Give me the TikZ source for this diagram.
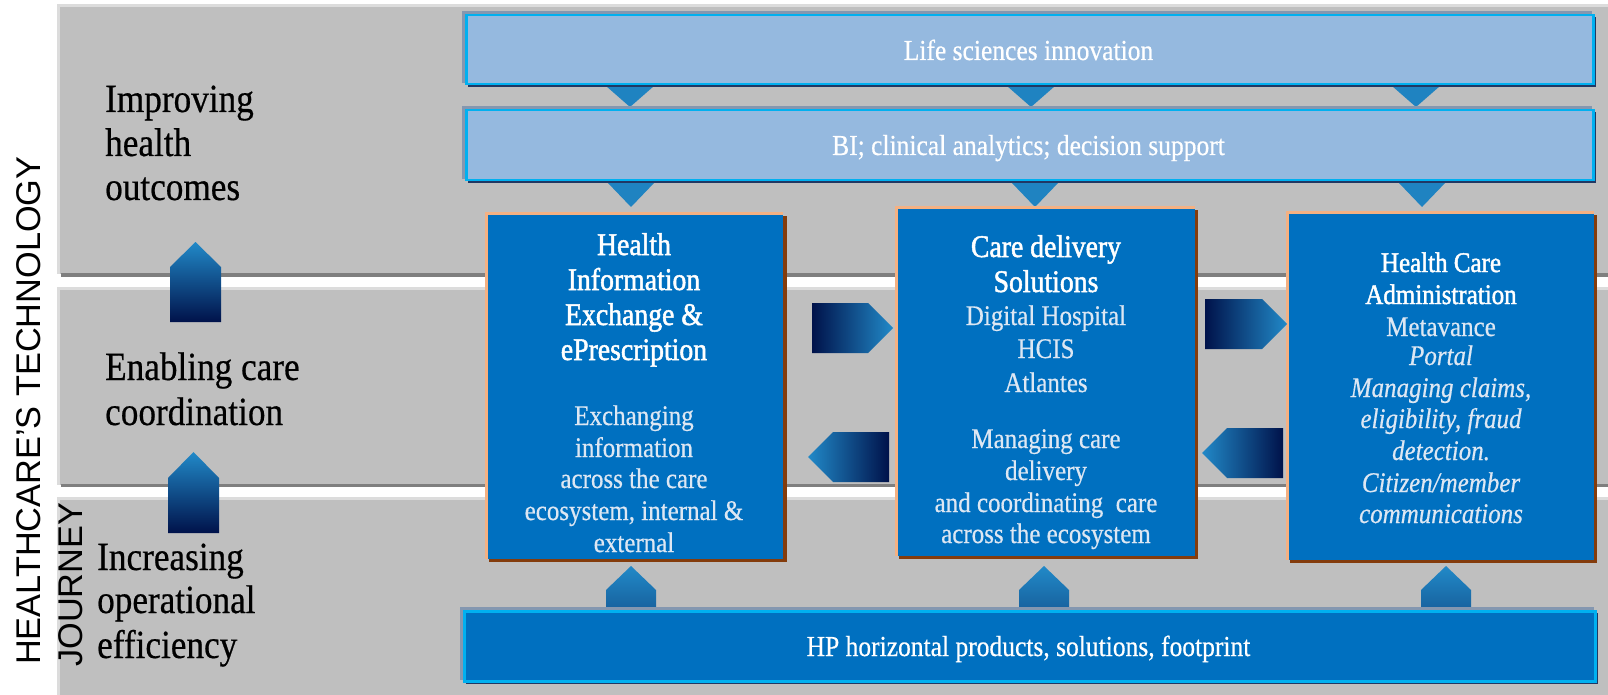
\documentclass[tikz,border=0pt]{standalone}
\usepackage{fontspec}
\setmainfont{Liberation Serif}[FakeStretch=0.88, FakeBold=0.5]
\newfontfamily\ttlf{Liberation Serif}[FakeStretch=0.88, FakeBold=1.6]
\newfontfamily\sansf{Liberation Sans}
\definecolor{band}{HTML}{BFBFBF}
\definecolor{bandrim}{HTML}{DCDCDC}
\definecolor{bandshadow}{HTML}{7F7F7F}
\definecolor{boxblue}{HTML}{0070C0}
\definecolor{boxrim}{HTML}{F4B183}
\definecolor{boxshadow}{HTML}{843C0C}
\definecolor{barfill}{HTML}{95B9DF}
\definecolor{barcyan}{HTML}{00B0F0}
\definecolor{barrim}{HTML}{8497B0}
\definecolor{barshadow}{HTML}{203864}
\definecolor{tri}{HTML}{1F83C1}
\definecolor{arlight}{HTML}{2189C8}
\definecolor{ardark}{HTML}{00124A}
\definecolor{armid}{HTML}{17609C}
\definecolor{bodytext}{HTML}{DDE7F3}
\tikzset{
  lefttxt/.style={anchor=base west, inner sep=0, font=\fontsize{40}{48}\selectfont},
  vtxt/.style={rotate=90, anchor=base west, inner sep=0, font=\sansf\fontsize{34.3}{40}\selectfont},
  ttlA/.style={anchor=base, inner sep=0, text=white, font=\ttlf\fontsize{31.5}{36}\selectfont},
  ttlB/.style={anchor=base, inner sep=0, text=white, font=\ttlf\fontsize{28.4}{32}\selectfont},
  bodyt/.style={anchor=base, inner sep=0, text=bodytext, font=\fontsize{28.4}{32}\selectfont},
  bodyi/.style={anchor=base, inner sep=0, text=bodytext, font=\fontsize{28.4}{32}\selectfont\itshape},
  bartxt/.style={anchor=base, inner sep=0, text=white, font=\fontsize{29}{34}\selectfont},
  boxst/.style={anchor=north west, inner sep=0, fill=boxblue, draw=none},
  barst/.style={anchor=north west, inner sep=0, fill=barfill, draw=barcyan, line width=2.5pt},
  hpbarst/.style={anchor=north west, inner sep=0, fill=boxblue, draw=barcyan, line width=2.5pt},
  tristyle/.style={fill=tri},
}
\begin{document}
\begin{tikzpicture}[x=1pt,y=-1pt]
\useasboundingbox (0,0) rectangle (1608,695);
% bands
\fill[bandrim] (57,4) rectangle (1608,274);
\fill[band] (60,7) rectangle (1608,274);
\fill[bandshadow] (61,273) rectangle (1608,277);
\fill[bandrim] (57,287) rectangle (1608,485);
\fill[band] (60,290) rectangle (1608,485);
\fill[bandshadow] (61,484) rectangle (1608,487);
\fill[bandrim] (57,497) rectangle (1608,695);
\fill[band] (60,500) rectangle (1608,695);
% left up arrows
\shade[top color=arlight, bottom color=ardark] (170,322) -- (170,267) -- (195.5,242) -- (221,267) -- (221,322) -- cycle;
\shade[top color=arlight, bottom color=ardark] (168,533) -- (168,478) -- (193.5,452) -- (219,478) -- (219,533) -- cycle;
% left texts
\node[lefttxt] (l1) at (105,112) {Improving};
\node[lefttxt] (l2) at (105,156) {health};
\node[lefttxt] (l3) at (105,200) {outcomes};
\node[lefttxt] (l4) at (105,380) {Enabling care};
\node[lefttxt] (l5) at (105,425) {coordination};
\node[lefttxt] (l6) at (97,570) {Increasing};
\node[lefttxt] (l7) at (97,613) {operational};
\node[lefttxt] (l8) at (97,658) {efficiency};
% vertical title
\node[vtxt] (vt1) at (40,665) {HEALTHCARE’S TECHNOLOGY};
\node[vtxt] (vt2) at (82,667) {JOURNEY};
% triangles
\foreach \cx [count=\i] in {630,1031,1416}
  \fill[tristyle] (\cx-24,86) -- (\cx+24,86) -- (\cx,107) -- cycle;
\foreach \cx [count=\i] in {631,1035,1422}
  \fill[tristyle] (\cx-24,182) -- (\cx+24,182) -- (\cx,207) -- cycle;
% top bars
\fill[barshadow] (468,17) rectangle (1596,87);
\fill[barrim] (462,11) rectangle (1592,83);
\node[barst, minimum width=1127pt, minimum height=69pt] (life) at (465,14) {};
\fill[barshadow] (468,112) rectangle (1596,183);
\fill[barrim] (462,106) rectangle (1592,179);
\node[barst, minimum width=1127pt, minimum height=70pt] (bi) at (465,109) {};
\node[bartxt] (lifet) at (1028.5,60) {Life sciences innovation};
\node[bartxt] (bit) at (1028.5,155) {BI; clinical analytics; decision support};
% bottom up arrows
\foreach \cx [count=\i] in {631,1044,1446}
  \shade[top color=arlight, bottom color=armid] (\cx-25,612) -- (\cx-25,590) -- (\cx,566) -- (\cx+25,590) -- (\cx+25,612) -- cycle;
% bottom bar
\fill[barshadow] (466,613) rectangle (1598,684);
\fill[barrim] (460,607) rectangle (1594,680);
\node[hpbarst, minimum width=1131pt, minimum height=70pt] (hp) at (463,610) {};
\node[bartxt] (hpt) at (1028.5,656) {HP horizontal products, solutions, footprint};
% boxes
\fill[boxshadow] (489,216) rectangle (787,562);
\fill[boxrim] (485,212) rectangle (783,559);
\node[boxst, minimum width=295pt, minimum height=344pt] (hie) at (488,215) {};
\fill[boxshadow] (899,210) rectangle (1198,559);
\fill[boxrim] (895,206) rectangle (1195,556);
\node[boxst, minimum width=297pt, minimum height=347pt] (cds) at (898,209) {};
\fill[boxshadow] (1290,215) rectangle (1597,563);
\fill[boxrim] (1286,211) rectangle (1594,560);
\node[boxst, minimum width=305pt, minimum height=346pt] (hca) at (1289,214) {};
% horizontal arrows
\shade[left color=ardark, right color=arlight] (812,303) -- (868,303) -- (893,328) -- (868,353) -- (812,353) -- cycle;
\shade[left color=ardark, right color=arlight] (1205,299) -- (1262,299) -- (1287,324) -- (1262,349) -- (1205,349) -- cycle;
\shade[left color=arlight, right color=ardark] (808,457) -- (833,432) -- (889,432) -- (889,482) -- (833,482) -- cycle;
\shade[left color=arlight, right color=ardark] (1202,453) -- (1227,428) -- (1283,428) -- (1283,478) -- (1227,478) -- cycle;
% box 1 texts
\foreach \yy/\tx [count=\i] in {255/Health, 290/Information, 325/Exchange \&, 360/ePrescription}
  \node[ttlA] (hieT\i) at (634,\yy) {\tx};
\foreach \yy/\tx [count=\i] in {425/Exchanging, 457/information, 488/across the care, {520/ecosystem, internal \&}, 552/external}
  \node[bodyt] (hieB\i) at (634,\yy) {\tx};
% box 2 texts
\foreach \yy/\tx [count=\i] in {257/Care delivery, 292/Solutions}
  \node[ttlA] (cdsT\i) at (1046,\yy) {\tx};
\foreach \yy/\tx [count=\i] in {325/Digital Hospital, 358/HCIS, 392/Atlantes, 448/Managing care, 480/delivery, 512/and coordinating~ care, 543/across the ecosystem}
  \node[bodyt] (cdsB\i) at (1046,\yy) {\tx};
% box 3 texts
\foreach \yy/\tx [count=\i] in {272/Health Care, 304/Administration}
  \node[ttlB] (hcaT\i) at (1441,\yy) {\tx};
\node[bodyt] (hcaB1) at (1441,336) {Metavance};
\foreach \yy/\tx [count=\i] in {365/Portal, {397/Managing claims,}, {428/eligibility, fraud}, 460/detection.}
  \node[bodyi] (hcaI\i) at (1441,\yy) {\tx};
\node[bodyi] (hcaI5) at (1441,492) {Citizen/member};
\node[bodyi] (hcaI6) at (1441,523) {communications};
\end{tikzpicture}
\end{document}
